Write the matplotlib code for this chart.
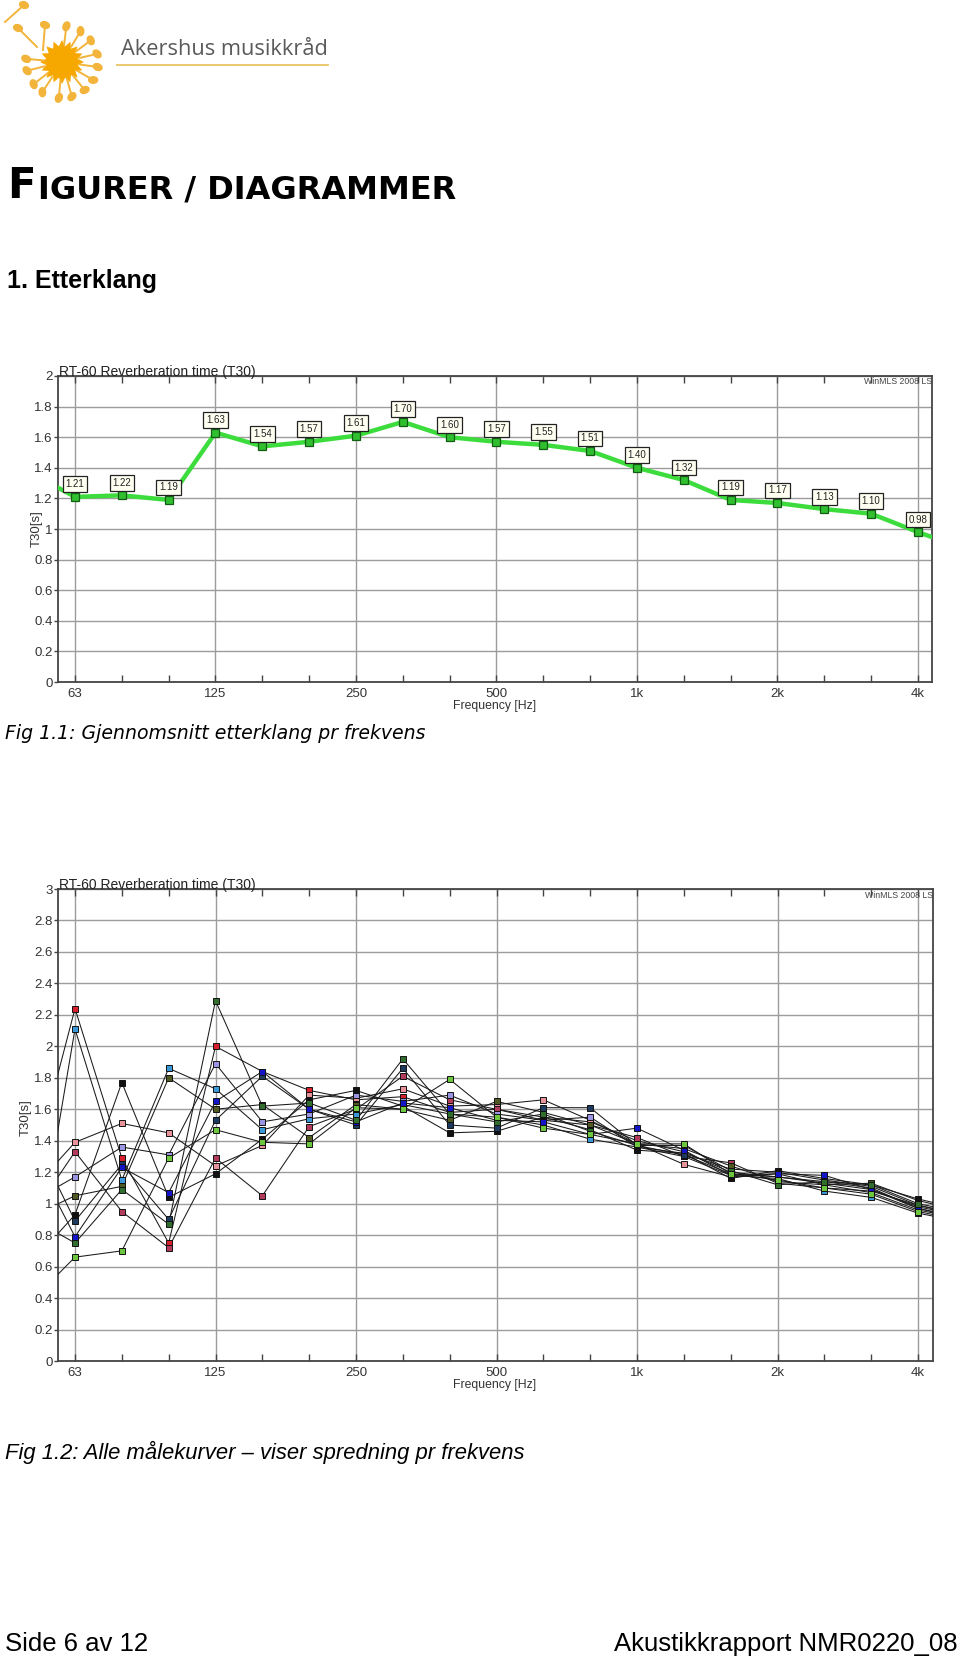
import numpy as np
import matplotlib
matplotlib.use("Agg")
import matplotlib.pyplot as plt
from matplotlib.patches import Ellipse, Polygon

plt.rcParams["font.family"] = ["Liberation Sans", "DejaVu Sans"]

# %% data
# third-octave bands, incl. the band on each side that only shows as a line stub
bands = ["50", "63", "80", "100", "125", "160", "200", "250", "315", "400", "500",
         "630", "800", "1k", "1.25k", "1.6k", "2k", "2.5k", "3.15k", "4k", "5k"]
octave_labels = ["63", "125", "250", "500", "1k", "2k", "4k"]

# Fig 1.1 - average T30 per band
avg_t30 = [1.375, 1.21, 1.22, 1.19, 1.63, 1.54, 1.57, 1.61, 1.70, 1.60, 1.57,
           1.55, 1.51, 1.40, 1.32, 1.19, 1.17, 1.13, 1.10, 0.98, 0.87]

# Fig 1.2 - all measurement curves
meas_red = [1.10, 2.24, 1.29, 0.75, 2.00, 1.84, 1.72, 1.66, 1.68, 1.58, 1.60,
            1.55, 1.52, 1.40, 1.33, 1.20, 1.17, 1.14, 1.10, 0.97, 0.90]
meas_lightblue = [0.35, 2.11, 1.15, 1.86, 1.73, 1.47, 1.54, 1.57, 1.63, 1.57, 1.55,
                  1.50, 1.41, 1.36, 1.30, 1.18, 1.16, 1.08, 1.04, 0.94, 0.88]
meas_pink = [1.06, 1.39, 1.51, 1.45, 1.24, 1.37, 1.69, 1.67, 1.73, 1.62, 1.63,
             1.66, 1.53, 1.38, 1.25, 1.17, 1.19, 1.12, 1.07, 0.96, 0.90]
meas_crimson = [0.89, 1.33, 0.95, 0.72, 1.29, 1.05, 1.49, 1.60, 1.81, 1.66, 1.60,
                1.53, 1.50, 1.42, 1.30, 1.26, 1.13, 1.10, 1.08, 0.99, 0.92]
meas_lavender = [1.00, 1.17, 1.36, 1.31, 1.89, 1.52, 1.57, 1.69, 1.65, 1.69, 1.57,
                 1.53, 1.55, 1.36, 1.32, 1.22, 1.20, 1.15, 1.11, 0.99, 0.93]
meas_olive = [0.91, 1.05, 1.11, 1.80, 1.60, 1.63, 1.42, 1.63, 1.60, 1.53, 1.65,
              1.58, 1.50, 1.38, 1.35, 1.24, 1.14, 1.12, 1.13, 1.02, 0.95]
meas_black = [0.60, 0.93, 1.77, 1.04, 1.19, 1.41, 1.66, 1.72, 1.62, 1.45, 1.46,
              1.55, 1.47, 1.34, 1.32, 1.16, 1.21, 1.16, 1.12, 1.03, 0.96]
meas_navy = [1.50, 0.89, 1.25, 0.90, 1.53, 1.81, 1.60, 1.50, 1.86, 1.50, 1.48,
             1.61, 1.61, 1.37, 1.31, 1.19, 1.17, 1.13, 1.09, 0.98, 0.92]
meas_blue = [1.37, 0.79, 1.23, 1.07, 1.65, 1.84, 1.60, 1.52, 1.64, 1.61, 1.53,
             1.52, 1.44, 1.48, 1.34, 1.18, 1.19, 1.18, 1.09, 0.97, 0.91]
meas_darkgreen = [0.92, 0.75, 1.09, 0.87, 2.29, 1.62, 1.64, 1.53, 1.92, 1.57, 1.52,
                  1.57, 1.46, 1.37, 1.37, 1.21, 1.12, 1.14, 1.12, 1.00, 0.94]
meas_lime = [0.36, 0.66, 0.70, 1.29, 1.47, 1.39, 1.38, 1.61, 1.60, 1.79, 1.55,
             1.48, 1.44, 1.38, 1.38, 1.19, 1.15, 1.10, 1.06, 0.95, 0.89]

measurements = [meas_red, meas_lightblue, meas_pink, meas_crimson, meas_lavender,
                meas_olive, meas_black, meas_navy, meas_blue, meas_darkgreen, meas_lime]
meas_colors = ["#d8202c", "#3a98d8", "#e8939c", "#b23a5a", "#9a96e4", "#4f5a22",
               "#111111", "#1d3a5e", "#1414c8", "#2f6e2c", "#6cc63e"]

# %% helpers
W, H = 960, 1660
xpos = np.arange(len(bands)) - 1            # 63 Hz sits at 0
oct_pos = [bands.index(b) - 1 for b in octave_labels]
minor_pos = [p for p in xpos[1:-1] if p not in oct_pos]


def px_axes(fig, left, top, right, bottom):
    return fig.add_axes([left / W, 1 - bottom / H, (right - left) / W, (bottom - top) / H])


def style_axes(ax, ymax, xmax):
    ax.set_xticks(oct_pos)
    ax.set_xticklabels(octave_labels)
    ax.set_xticks(minor_pos, minor=True)
    ax.tick_params(axis="x", which="both", direction="in", top=True, length=5,
                   width=1, color="#444", labelsize=9.5, labelcolor="#333", pad=4)
    yt = np.round(np.arange(0, ymax + 0.01, 0.2), 1)
    ax.set_yticks(yt)
    ax.set_yticklabels([f"{v:g}" for v in yt])
    ax.tick_params(axis="y", length=3, width=1, color="#444", direction="out",
                   labelsize=9.5, labelcolor="#333", pad=1)
    ax.set_xlim(-0.363, xmax)
    ax.set_ylim(0, ymax)
    ax.grid(True, color="#9c9c9c", lw=1)
    ax.set_axisbelow(True)
    for sp in ax.spines.values():
        sp.set_color("#444")
        sp.set_linewidth(1.3)
    ax.text(1.0, 0.996, "WinMLS 2008 LS", transform=ax.transAxes, ha="right", va="top",
            fontsize=6.3, color="#444", clip_on=False)


fig = plt.figure(figsize=(W / 100, H / 100), dpi=100)

# %% logo
lax = fig.add_axes([0, 1 - 110 / H, 340 / W, 110 / H])
lax.set_xlim(0, 340)
lax.set_ylim(110, 0)
lax.axis("off")
cx, cy = 62, 62
ang = np.linspace(0, 2 * np.pi, 33)[:-1]
rad = np.where(np.arange(32) % 2 == 0, 22, 16)
lax.add_patch(Polygon(np.c_[cx + rad * np.cos(ang), cy + rad * np.sin(ang)],
                      closed=True, color="#f7a800", lw=0))
for a in [83, 59, 37, 13, -8, -30, -51, -74, -95, -123, -142, -166, 175]:
    r = np.deg2rad(a)
    hx, hy = cx + 36 * np.cos(r), cy - 36 * np.sin(r)
    lax.plot([cx + 18 * np.cos(r), hx - 3 * np.cos(r)], [cy - 18 * np.sin(r), hy + 3 * np.sin(r)],
             color="#f2b43a", lw=1.4)
    lax.add_patch(Ellipse((hx, hy), 9, 6.5, angle=a + 30, color="#f2b43a"))
for (sx, sy), (hx, hy) in [((5, 22), (24, 5)), ((37, 47), (18, 28)), ((43, 50), (45, 25))]:
    lax.plot([sx, hx], [sy, hy], color="#f2b43a", lw=1.4)
    lax.add_patch(Ellipse((hx, hy), 9, 6.5, angle=20, color="#f2b43a"))
lax.plot([117, 328], [65, 65], color="#e8c463", lw=1.3)
fig.text(121 / W, 1 - 55 / H, "Akershus musikkråd", fontsize=15.7, color="#5a5a5a",
         family=["Open Sans", "DejaVu Sans"], va="baseline")

# %% headings
renderer = fig.canvas.get_renderer()
tF = fig.text(7 / W, 1 - 198 / H, "F", fontsize=30, weight="bold", color="black",
              family="DejaVu Sans", va="baseline")
x_end = tF.get_window_extent(renderer).x1
fig.text(x_end / W + 2 / W, 1 - 198 / H, "IGURER / DIAGRAMMER", fontsize=23, weight="bold",
         family="DejaVu Sans", va="baseline")
fig.text(7 / W, 1 - 288 / H, "1. Etterklang", fontsize=18, weight="bold", va="baseline")

# %% Fig 1.1
ax1 = px_axes(fig, 58, 376, 932, 682)
style_axes(ax1, 2.0, 18.30)
ax1.plot(xpos, avg_t30, color="#3ddc3d", lw=3.2, zorder=3, solid_joinstyle="round")
ax1.plot(xpos[1:-1], avg_t30[1:-1], ls="none", marker="s", ms=5.5, mfc="#2fbf2f",
         mec="#145c14", mew=0.9, zorder=4)
for x, v in zip(xpos[1:-1], avg_t30[1:-1]):
    ax1.annotate(f"{v:.2f}", (x, v), xytext=(0, 9), textcoords="offset points",
                 ha="center", va="center", fontsize=7, color="#222", zorder=5,
                 bbox=dict(boxstyle="square,pad=0.3", fc="#fffff2", ec="#222", lw=0.9))
ax1.text(0.001, 1.0, "RT-60 Reverberation time (T30)", transform=ax1.transAxes,
         ha="left", va="baseline", fontsize=10, color="#222")
fig.text(37 / W, 1 - 529 / H, "T30[s]", rotation=90, ha="center", va="center",
         fontsize=9.5, color="#333")
fig.text(495 / W, 1 - 706 / H, "Frequency [Hz]", ha="center", va="center",
         fontsize=8.8, color="#333")
fig.text(5 / W, 1 - 733 / H, "Fig 1.1: Gjennomsnitt etterklang pr frekvens",
         family="DejaVu Sans", style="italic", fontsize=13.6, va="center")

# %% Fig 1.2
ax2 = px_axes(fig, 58, 889, 933, 1361)
style_axes(ax2, 3.0, 18.32)
for vals in measurements:
    ax2.plot(xpos, vals, color="#1a1a1a", lw=0.75, zorder=3)
for vals, col in zip(measurements, meas_colors):
    ax2.plot(xpos[1:-1], vals[1:-1], ls="none", marker="s", ms=5, mfc=col,
             mec="#111", mew=0.7, zorder=4)
ax2.text(0.001, 1.0, "RT-60 Reverberation time (T30)", transform=ax2.transAxes,
         ha="left", va="baseline", fontsize=10, color="#222")
fig.text(26 / W, 1 - 1118 / H, "T30[s]", rotation=90, ha="center", va="center",
         fontsize=9.5, color="#333")
fig.text(495 / W, 1 - 1385 / H, "Frequency [Hz]", ha="center", va="center",
         fontsize=8.8, color="#333")
fig.text(5 / W, 1 - 1452 / H, "Fig 1.2: Alle målekurver – viser spredning pr frekvens",
         style="italic", fontsize=15.8, va="center")

# %% footer
fig.text(5 / W, 1 - 1644 / H, "Side 6 av 12", fontsize=18.5, va="center")
fig.text(958 / W, 1 - 1644 / H, "Akustikkrapport NMR0220_08", fontsize=18.5,
         va="center", ha="right")

fig.savefig("out.png", dpi=100)
